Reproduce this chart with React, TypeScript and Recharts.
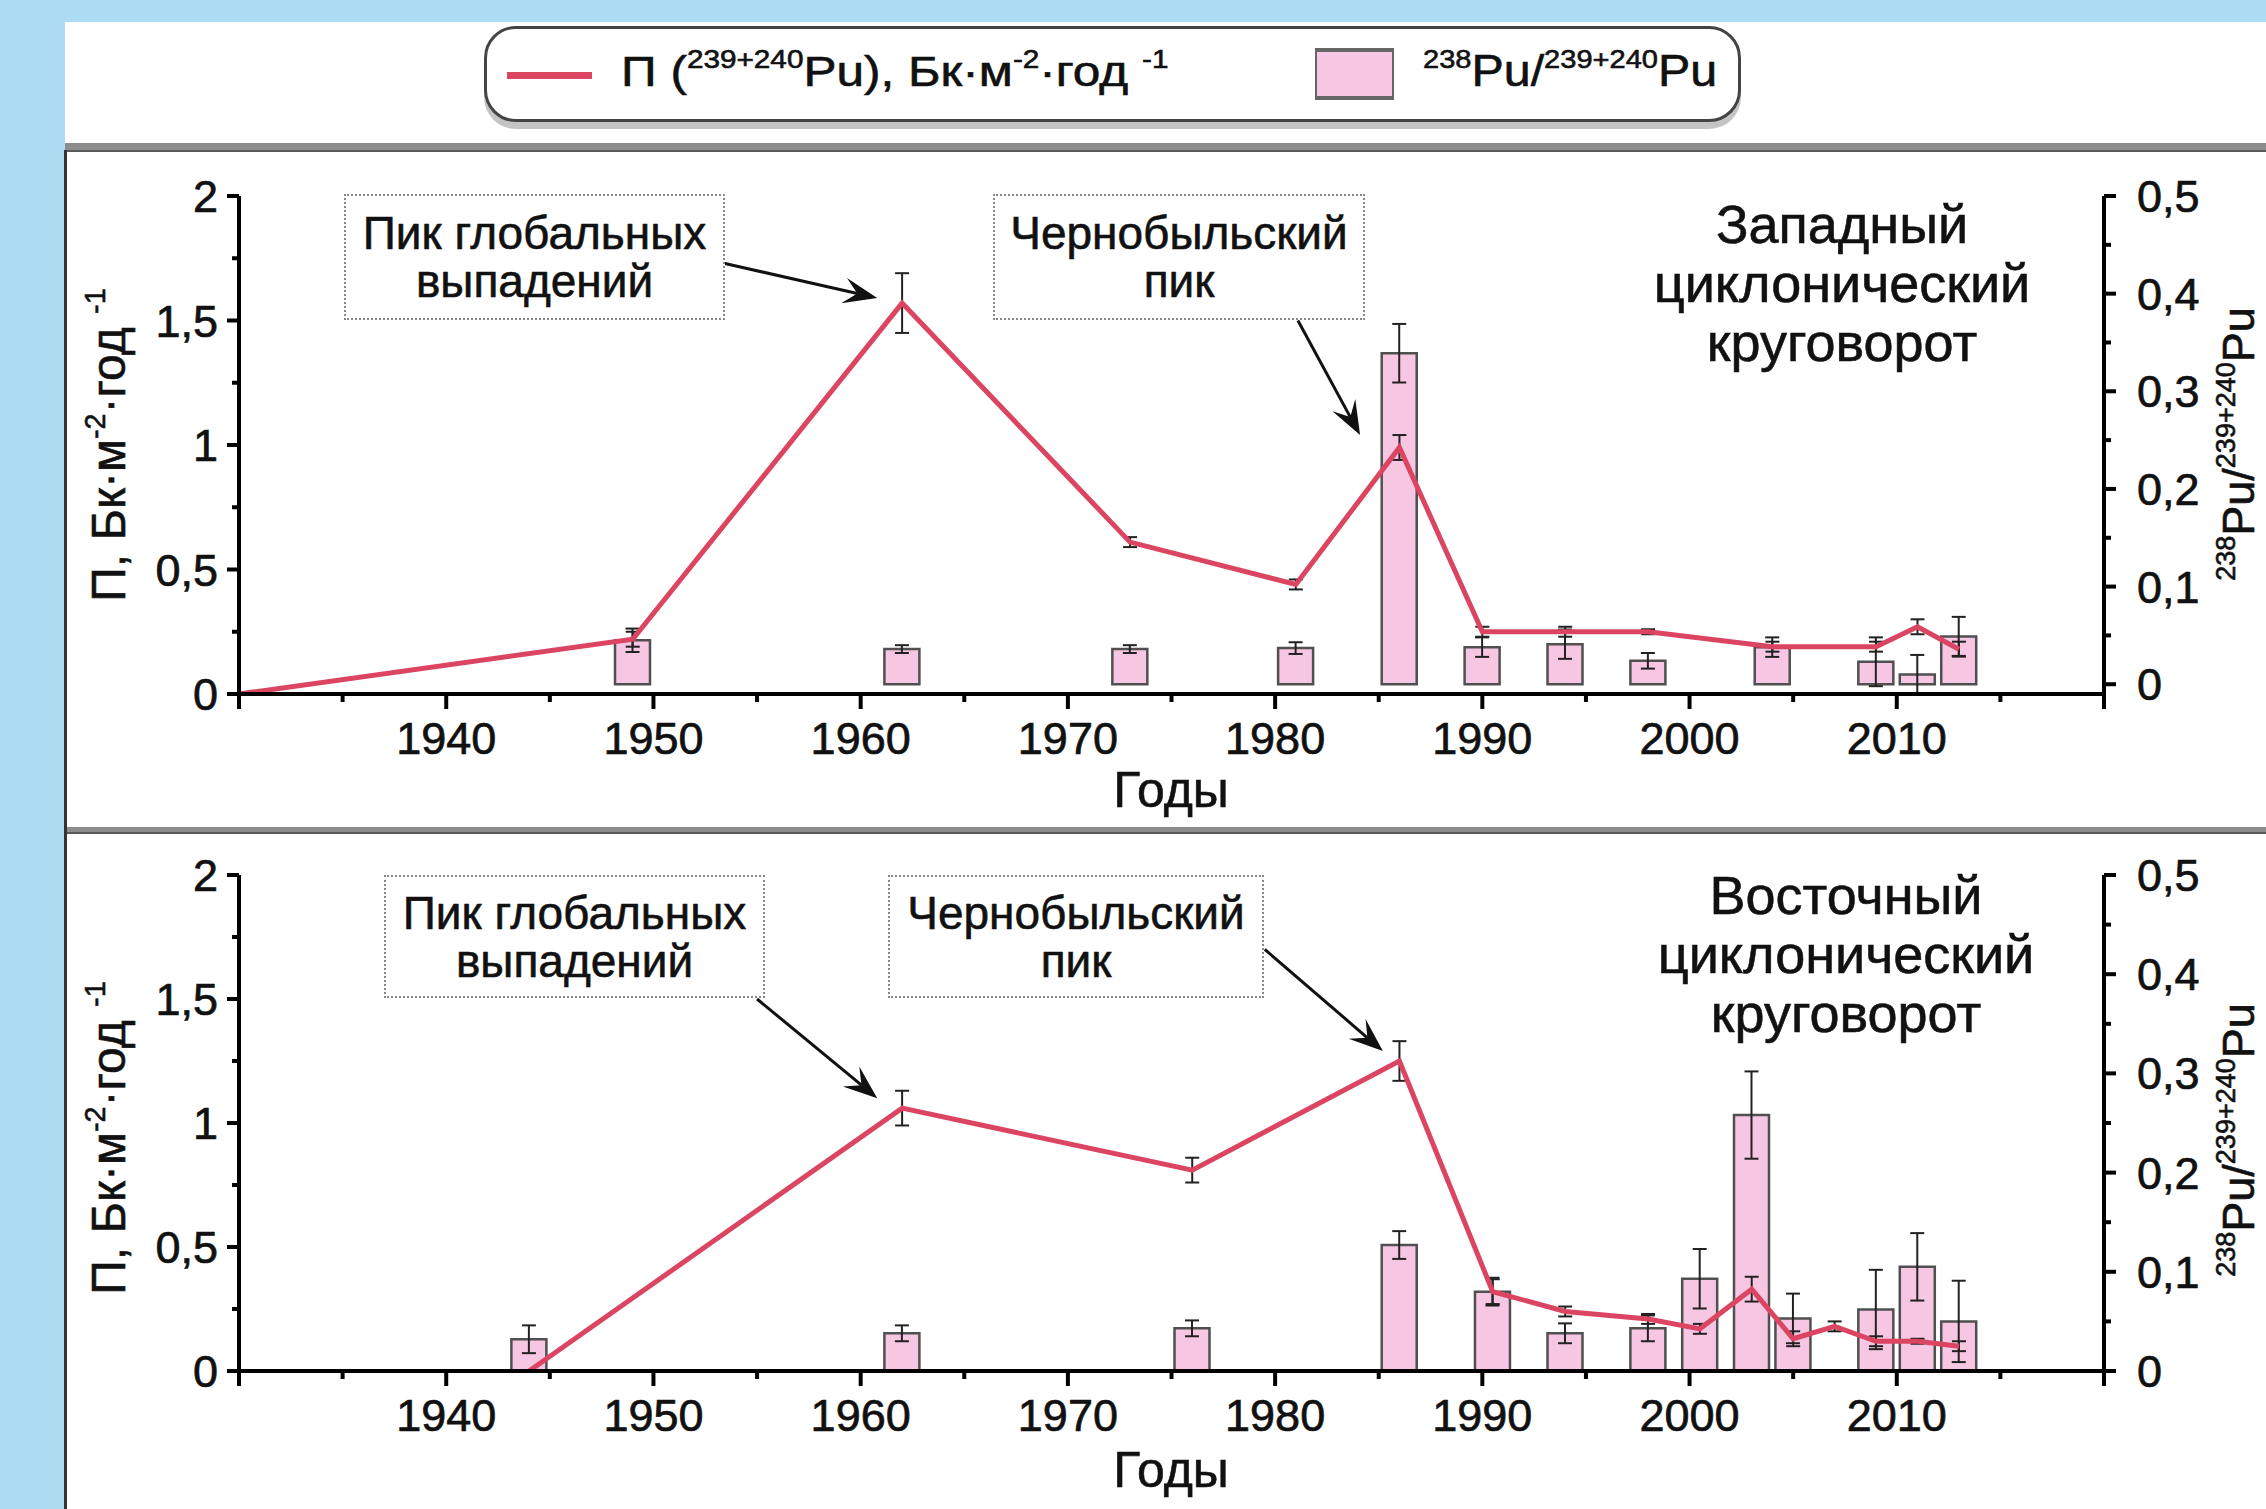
import React from 'react';
import { ComposedChart, Line, Bar, XAxis, YAxis, ErrorBar, ReferenceLine } from 'recharts';

// западный циклонический круговорот
const westYears = [1930, 1949, 1962, 1973, 1981, 1986, 1990, 1994, 1998, 2004, 2009, 2011, 2013];
const westFlux = [0, 0.22, 1.57, 0.61, 0.44, 0.99, 0.25, 0.25, 0.25, 0.19, 0.19, 0.27, 0.18];
const westFluxErr = [null, 0.03, 0.12, 0.02, 0.02, 0.05, 0.02, 0.02, 0.01, 0.02, 0.02, 0.03, 0.03];
const westRatio = [null, 0.045, 0.036, 0.036, 0.037, 0.339, 0.038, 0.041, 0.024, 0.038, 0.023, 0.01, 0.049];
const westRatioErr = [null, 0.012, 0.004, 0.004, 0.006, 0.03, 0.01, 0.015, 0.008, 0.01, 0.025, 0.02, 0.02];

// восточный циклонический круговорот
const eastYears = [1944, 1962, 1976, 1986, 1990.5, 1994, 1998, 2000.5, 2003, 2005, 2007, 2009, 2011, 2013];
const eastFlux = [0, 1.06, 0.81, 1.25, 0.32, 0.24, 0.21, 0.17, 0.33, 0.13, 0.18, 0.12, 0.12, 0.1];
const eastFluxErr = [null, 0.07, 0.05, 0.08, 0.05, 0.02, 0.02, 0.02, 0.05, 0.03, 0.02, 0.02, 0.01, 0.02];
const eastRatio = [0.032, 0.038, 0.043, 0.127, 0.08, 0.038, 0.043, 0.093, 0.258, 0.053, null, 0.062, 0.105, 0.05];
const eastRatioErr = [0.014, 0.008, 0.008, 0.014, 0.014, 0.01, 0.013, 0.03, 0.044, 0.025, null, 0.04, 0.034, 0.041];

// оси
const yearMajor = [1930, 1940, 1950, 1960, 1970, 1980, 1990, 2000, 2010, 2020];
const yearMinor = [1935, 1945, 1955, 1965, 1975, 1985, 1995, 2005, 2015];
const yearLabels = [1940, 1950, 1960, 1970, 1980, 1990, 2000, 2010];
const fluxMajor = [0, 0.5, 1, 1.5, 2];
const fluxMinor = [0.25, 0.75, 1.25, 1.75];
const ratioMajor = [0, 0.1, 0.2, 0.3, 0.4, 0.5];
const ratioMinor = [0.05, 0.15, 0.25, 0.35, 0.45];

// стрелки к пикам: [год, П] -> [год, П]
const westArrows = [
  { from: [1953.4, 1.73], to: [1960.8, 1.59] },
  { from: [1981.1, 1.5], to: [1984.1, 1.04] },
];
const eastArrows = [
  { from: [1955.0, 1.5], to: [1960.8, 1.1] },
  { from: [1979.5, 1.7], to: [1985.2, 1.29] },
];

const FONT = '"Liberation Sans", Arial, sans-serif';
const RED = '#DC4562';
const PINK = '#F6C6E2';
const BLUE = '#ADDCF2';
const INK = '#111';
const HTML_STROKE = '0.6px #111';

const buildRows = (years: number[], flux: any[], fluxErr: any[], ratio: any[], ratioErr: any[]) =>
  years.map((year, i) => ({ year, flux: flux[i], fluxErr: fluxErr[i], ratio: ratio[i], ratioErr: ratioErr[i] }));

const westRows = buildRows(westYears, westFlux, westFluxErr, westRatio, westRatioErr);
const eastRows = buildRows(eastYears, eastFlux, eastFluxErr, eastRatio, eastRatioErr);

const fmt = (v: number) => String(v).replace('.', ',');

const tickText = { fontSize: 45, fontFamily: FONT, fill: INK, stroke: INK, strokeWidth: 0.7 };

const YearTick = ({ x, y, payload }: any) => {
  const v = payload.value;
  const major = yearMajor.includes(v);
  return (
    <g>
      <line x1={x} x2={x} y1={y} y2={y + (major ? 15 : 8)} stroke="#000" strokeWidth={4} />
      {yearLabels.includes(v) && (
        <text x={x} y={y + 60} textAnchor="middle" {...tickText}>{v}</text>
      )}
    </g>
  );
};

const FluxTick = ({ x, y, payload }: any) => {
  const v = payload.value;
  const major = fluxMajor.includes(v);
  return (
    <g>
      <line x1={x} x2={x - (major ? 12 : 7)} y1={y} y2={y} stroke="#000" strokeWidth={4} />
      {major && (
        <text x={x - 21} y={y + 16} textAnchor="end" {...tickText}>{fmt(v)}</text>
      )}
    </g>
  );
};

const RatioTick = ({ x, y, payload }: any) => {
  const v = payload.value;
  const major = ratioMajor.includes(v);
  return (
    <g>
      <line x1={x} x2={x + (major ? 12 : 7)} y1={y} y2={y} stroke="#000" strokeWidth={4} />
      {major && (
        <text x={x + 33} y={y + 16} textAnchor="start" {...tickText}>{fmt(v)}</text>
      )}
    </g>
  );
};

const ArrowShape = (props: any) => {
  const { x1, y1, x2, y2 } = props;
  if ([x1, y1, x2, y2].some((n) => typeof n !== 'number')) return null;
  const ang = Math.atan2(y2 - y1, x2 - x1);
  const c = Math.cos(ang), s = Math.sin(ang);
  const L = 34, W = 13;
  const bx = x2 - L * c, by = y2 - L * s;
  const mx = x2 - L * 0.6 * c, my = y2 - L * 0.6 * s;
  const pts = [
    [x2, y2],
    [bx - s * W, by + c * W],
    [mx, my],
    [bx + s * W, by - c * W],
  ].map((p) => p.join(',')).join(' ');
  return (
    <g>
      <line x1={x1} y1={y1} x2={mx} y2={my} stroke={INK} strokeWidth={3} />
      <polygon points={pts} fill={INK} />
    </g>
  );
};

const Sup = ({ children }: any) => (
  <span style={{ fontSize: '0.6em', position: 'relative', top: '-0.7em' }}>{children}</span>
);

const Panel = ({ rows, top, height, marginTop, marginBottom, arrows }: any) => (
  <div style={{ position: 'absolute', left: 65, top, width: 2201, height }}>
    <ComposedChart
      width={2201}
      height={height}
      data={rows}
      margin={{ top: marginTop, right: 52, bottom: marginBottom, left: 64 }}
    >
      <XAxis
        dataKey="year"
        type="number"
        domain={[1930, 2020]}
        ticks={[...yearMajor, ...yearMinor].sort((a, b) => a - b)}
        interval={0}
        allowDataOverflow
        height={100}
        tickSize={0}
        tickMargin={0}
        tickLine={false}
        axisLine={{ stroke: '#000', strokeWidth: 4 }}
        tick={<YearTick />}
      />
      <YAxis
        yAxisId="left"
        type="number"
        domain={[0, 2]}
        ticks={[...fluxMajor, ...fluxMinor].sort((a, b) => a - b)}
        interval={0}
        width={110}
        tickSize={0}
        tickMargin={0}
        tickLine={false}
        axisLine={{ stroke: '#000', strokeWidth: 4 }}
        tick={<FluxTick />}
      />
      <YAxis
        yAxisId="right"
        orientation="right"
        type="number"
        domain={[0, 0.5]}
        ticks={[...ratioMajor, ...ratioMinor].sort((a, b) => a - b)}
        interval={0}
        width={110}
        tickSize={0}
        tickMargin={0}
        tickLine={false}
        axisLine={{ stroke: '#000', strokeWidth: 4 }}
        tick={<RatioTick />}
      />
      <Bar
        yAxisId="right"
        dataKey="ratio"
        barSize={35}
        fill={PINK}
        stroke="#505050"
        strokeWidth={2.5}
        isAnimationActive={false}
      >
        <ErrorBar dataKey="ratioErr" direction="y" width={7} stroke="#222" strokeWidth={2} />
      </Bar>
      <Line
        yAxisId="left"
        dataKey="flux"
        type="linear"
        stroke={RED}
        strokeWidth={5}
        dot={false}
        activeDot={false}
        connectNulls
        isAnimationActive={false}
      >
        <ErrorBar dataKey="fluxErr" direction="y" width={7} stroke="#222" strokeWidth={2} />
      </Line>
      {arrows.map((a: any, i: number) => (
        <ReferenceLine
          key={i}
          yAxisId="left"
          segment={[{ x: a.from[0], y: a.from[1] }, { x: a.to[0], y: a.to[1] }]}
          shape={ArrowShape}
          ifOverflow="visible"
        />
      ))}
    </ComposedChart>
  </div>
);

const NoteBox = ({ left, top, width, height, lines }: any) => (
  <div
    style={{
      position: 'absolute', left, top, width, height, boxSizing: 'border-box',
      border: '2px dotted #888', background: '#fff', display: 'flex', flexDirection: 'column',
      justifyContent: 'center', alignItems: 'center', fontFamily: FONT, fontSize: 46,
      lineHeight: '48px', color: INK, WebkitTextStroke: HTML_STROKE, whiteSpace: 'nowrap',
    }}
  >
    {lines.map((l: string) => <div key={l}>{l}</div>)}
  </div>
);

const Title = ({ cx, top, lines }: any) => (
  <div
    style={{
      position: 'absolute', left: cx - 300, top, width: 600, textAlign: 'center',
      fontFamily: FONT, fontSize: 54, lineHeight: '59px', color: INK, WebkitTextStroke: HTML_STROKE,
    }}
  >
    {lines.map((l: string) => <div key={l}>{l}</div>)}
  </div>
);

const Rotated = ({ cx, cy, children, size }: any) => (
  <div
    style={{
      position: 'absolute', left: cx, top: cy, transform: 'translate(-50%, -50%) rotate(-90deg)',
      whiteSpace: 'nowrap', fontFamily: FONT, fontSize: size, lineHeight: 1, color: INK,
      WebkitTextStroke: HTML_STROKE,
    }}
  >
    {children}
  </div>
);

const Label = ({ cx, cy, children }: any) => (
  <div
    style={{
      position: 'absolute', left: cx, top: cy, transform: 'translate(-50%, -50%)',
      whiteSpace: 'nowrap', fontFamily: FONT, fontSize: 50, lineHeight: 1, color: INK,
      WebkitTextStroke: HTML_STROKE,
    }}
  >
    {children}
  </div>
);

const FluxLabel = () => (
  <span>П, Бк·м<Sup>-2</Sup>·год <Sup>-1</Sup></span>
);
const RatioLabel = () => (
  <span><Sup>238</Sup>Pu/<Sup>239+240</Sup>Pu</span>
);

export default function App() {
  return (
    <div style={{ position: 'absolute', left: 0, top: 0, width: 2266, height: 1509, background: BLUE, overflow: 'hidden' }}>
      <div style={{ position: 'absolute', left: 65, top: 22, width: 2201, height: 1487, background: '#fff' }} />
      {/* легенда */}
      <div
        style={{
          position: 'absolute', left: 484, top: 26, width: 1257, height: 96, boxSizing: 'border-box',
          border: '3px solid #444', borderRadius: 32, background: '#fff', boxShadow: '0 7px 0 #c4c4c4',
        }}
      />
      <div style={{ position: 'absolute', left: 507, top: 72, width: 85, height: 7, background: RED }} />
      <div
        style={{
          position: 'absolute', left: 621, top: 48, fontFamily: FONT, fontSize: 42, lineHeight: '48px',
          color: INK, whiteSpace: 'nowrap', transform: 'scaleX(1.18)', transformOrigin: 'left center',
          WebkitTextStroke: HTML_STROKE,
        }}
      >
        П (<Sup>239+240</Sup>Pu), Бк·м<Sup>-2</Sup>·год <Sup>-1</Sup>
      </div>
      <div style={{ position: 'absolute', left: 1315, top: 48, width: 79, height: 52, boxSizing: 'border-box', background: PINK, border: '2px solid #666', borderTopWidth: 4, borderBottomWidth: 4 }} />
      <div
        style={{
          position: 'absolute', left: 1423, top: 47, fontFamily: FONT, fontSize: 44, lineHeight: '48px',
          color: INK, whiteSpace: 'nowrap', transform: 'scaleX(1.1)', transformOrigin: 'left center',
          WebkitTextStroke: HTML_STROKE,
        }}
      >
        <RatioLabel />
      </div>

      {/* разделители */}
      <div style={{ position: 'absolute', left: 65, top: 143, width: 2201, height: 7, background: '#8c8c8c', borderBottom: '2px solid #5a5a5a' }} />
      <div style={{ position: 'absolute', left: 65, top: 827, width: 2201, height: 5, background: '#8c8c8c', borderBottom: '2px solid #5a5a5a' }} />
      <div style={{ position: 'absolute', left: 64, top: 150, width: 3, height: 1359, background: '#333' }} />

      <Panel rows={westRows} top={151} height={677} marginTop={45} marginBottom={34} arrows={westArrows} />
      <Panel rows={eastRows} top={834} height={675} marginTop={41} marginBottom={38} arrows={eastArrows} />

      {/* подписи верхней панели */}
      <NoteBox left={344} top={194} width={381} height={126} lines={['Пик глобальных', 'выпадений']} />
      <NoteBox left={993} top={194} width={372} height={126} lines={['Чернобыльский', 'пик']} />
      <Title cx={1842} top={195} lines={['Западный', 'циклонический', 'круговорот']} />
      <Rotated cx={109} cy={445} size={48}><FluxLabel /></Rotated>
      <Rotated cx={2238} cy={444} size={45}><RatioLabel /></Rotated>
      <Label cx={1171} cy={790}>Годы</Label>

      {/* подписи нижней панели */}
      <NoteBox left={384} top={875} width={381} height={123} lines={['Пик глобальных', 'выпадений']} />
      <NoteBox left={888} top={875} width={376} height={123} lines={['Чернобыльский', 'пик']} />
      <Title cx={1846} top={866} lines={['Восточный', 'циклонический', 'круговорот']} />
      <Rotated cx={109} cy={1138} size={48}><FluxLabel /></Rotated>
      <Rotated cx={2238} cy={1140} size={45}><RatioLabel /></Rotated>
      <Label cx={1171} cy={1470}>Годы</Label>
    </div>
  );
}
